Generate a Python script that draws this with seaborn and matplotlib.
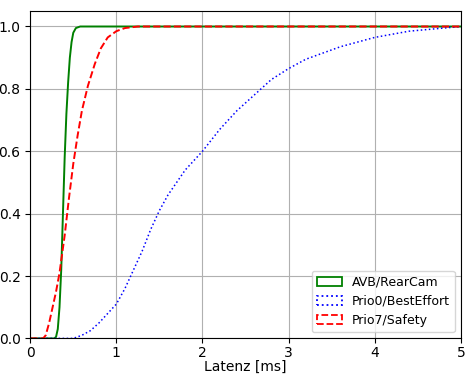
import numpy as np
import pandas as pd
import seaborn as sns
import matplotlib.pyplot as plt
from matplotlib.patches import Patch

# Werte (Latenz in ms, kumulativer Anteil)
avb_x = [0, 0.28, 0.30, 0.32, 0.34, 0.36, 0.38, 0.40, 0.42, 0.44, 0.46, 0.48, 0.50, 0.53, 0.58, 5.0]
avb_y = [0, 0, 0.005, 0.03, 0.10, 0.22, 0.40, 0.58, 0.72, 0.82, 0.90, 0.95, 0.98, 0.995, 1.0, 1.0]

prio7_x = [0, 0.15, 0.18, 0.22, 0.26, 0.30, 0.34, 0.40, 0.45, 0.50, 0.55, 0.60, 0.67, 0.75, 0.82,
           0.90, 1.0, 1.1, 1.25, 5.0]
prio7_y = [0, 0, 0.01, 0.05, 0.10, 0.15, 0.21, 0.33, 0.45, 0.56, 0.65, 0.73, 0.81, 0.88, 0.93,
           0.965, 0.985, 0.995, 1.0, 1.0]

prio0_x = [0, 0.5, 0.6, 0.7, 0.8, 0.9, 1.0, 1.1, 1.2, 1.3, 1.4, 1.5, 1.6, 1.8, 2.0, 2.2, 2.4,
           2.6, 2.8, 3.0, 3.2, 3.4, 3.6, 3.8, 4.0, 4.2, 4.4, 4.6, 4.8, 5.0]
prio0_y = [0, 0, 0.01, 0.025, 0.05, 0.08, 0.11, 0.16, 0.22, 0.28, 0.35, 0.41, 0.46, 0.54, 0.60,
           0.67, 0.73, 0.78, 0.83, 0.865, 0.895, 0.915, 0.935, 0.95, 0.965, 0.975, 0.985, 0.99,
           0.995, 1.0]

labels = ['AVB/RearCam', 'Prio0/BestEffort', 'Prio7/Safety']
colors = ['green', 'blue', 'red']
styles = ['-', ':', '--']

df_avb = pd.DataFrame({'x': avb_x, 'y': avb_y})
df_p0 = pd.DataFrame({'x': prio0_x, 'y': prio0_y})
df_p7 = pd.DataFrame({'x': prio7_x, 'y': prio7_y})

fig, ax = plt.subplots(figsize=(4.65, 3.76), dpi=100)

sns.lineplot(data=df_avb, x='x', y='y', ax=ax, color=colors[0], linestyle=styles[0], lw=1.4)
sns.lineplot(data=df_p0, x='x', y='y', ax=ax, color=colors[1], linestyle=styles[1], lw=1.1)
sns.lineplot(data=df_p7, x='x', y='y', ax=ax, color=colors[2], linestyle=styles[2], lw=1.4)

ax.set_xlim(0, 5)
ax.set_ylim(0, 1.05)
ax.set_xticks([0, 1, 2, 3, 4, 5])
ax.set_yticks([0, 0.2, 0.4, 0.6, 0.8, 1.0])
ax.tick_params(axis='x', pad=2)
ax.grid(True)
ax.set_xlabel('Latenz [ms]', labelpad=0)
ax.set_ylabel('')

# Legende mit Rechtecken wie bei hist(histtype='step')
handles = [Patch(facecolor='none', edgecolor=c, linestyle=s, lw=1.3) for c, s in zip(colors, styles)]
ax.legend(handles, labels, loc='lower right', fontsize=9)

plt.subplots_adjust(left=0.065, right=0.991, top=0.971, bottom=0.1)
plt.savefig('out.png', dpi=100)
